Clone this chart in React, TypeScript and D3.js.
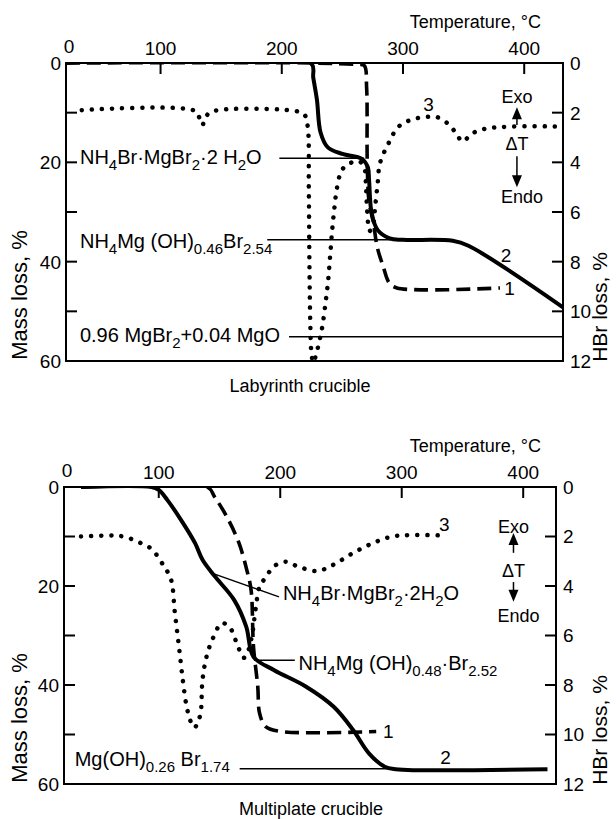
import React from 'react';
import * as d3 from 'd3';

// ---------- Top panel: Labyrinth crucible ----------
const topTemp1 = [22, 226, 262, 268, 270, 270.5, 272, 275.5, 278.7, 283.7, 288.7, 295, 380];
const topMass1 = [0, 0, 0.3, 0.5, 5, 20, 28, 32, 37, 41, 44.3, 45.3, 45.3];

const topTemp2 = [22, 224, 226, 229, 232, 238, 250, 266, 271, 272, 274, 279, 289, 300, 341, 354, 432];
const topMass2 = [0, 0, 3, 7.4, 14, 17, 18.3, 19.3, 21, 23.5, 30, 33.6, 35.3, 35.6, 35.8, 36.8, 49.2];

const topTemp3 = [35, 128, 132, 134.5, 137, 142, 214, 219, 221.5, 222.3, 222.8, 223.5, 224.5, 226, 228, 231, 233.5, 236, 238.3, 240, 241.6, 243.5, 245, 248, 252, 258, 264, 268, 269.5, 270.5, 272.5, 275, 277, 279, 281, 288, 296, 306, 318, 328, 337, 344, 349, 357, 367, 389, 430];
const topDta3 = [9.5, 9.6, 11, 12.5, 11, 9.8, 9.8, 10.5, 13, 25, 40, 52, 58.5, 60.3, 59, 56, 53, 48.5, 43.7, 38.5, 33.6, 29, 26, 22.5, 20.8, 20, 19.8, 21, 25, 30, 33.8, 33, 29, 24.5, 20.2, 16.2, 12.9, 11.5, 10.9, 10.9, 12.2, 14.2, 15.8, 14.2, 13.3, 12.8, 12.8];

// ---------- Bottom panel: Multiplate crucible ----------
const botTemp1 = [36, 140, 146, 156, 166, 172.5, 176, 178, 181.5, 183, 188, 201, 279];
const botMass1 = [0, 0, 2, 6, 11.3, 16.8, 20.8, 32.3, 40.3, 45.7, 48.4, 49.4, 49.4];

const botTemp2 = [36, 94, 100, 107, 120, 130, 136, 146, 162, 172, 178, 195, 221, 244, 260, 273, 286, 295, 420];
const botMass2 = [0, 0, 0.6, 2.6, 7.3, 11.4, 14.7, 18, 22.8, 28.2, 34.3, 37, 40.3, 44.4, 49.1, 53.8, 56.5, 57, 57];

const botTemp3 = [36, 58, 65, 74, 84, 94, 104, 110, 113.3, 116.6, 119.8, 123, 126.5, 129.6, 132, 134.4, 136, 139.3, 144, 152, 158.8, 165.3, 170, 173, 176.6, 180, 183, 188, 194.5, 204, 214, 230, 243, 259.5, 275.7, 292, 308, 334];
const botDta3 = [10, 9.8, 9.8, 10.2, 11.2, 12.5, 15.9, 18.6, 25.5, 32.2, 39, 44.4, 47.5, 48.6, 47.5, 45.8, 39, 34.3, 30.9, 27.5, 28.5, 32.3, 34.5, 33.5, 30.2, 24.2, 20.1, 18.3, 16.1, 15.1, 16, 17, 15.8, 13.4, 11.4, 10, 9.7, 9.8];

// ---------- Axes ----------
const tempTicks = [100, 200, 300, 400];
const massTicks = [10, 20, 30, 40, 50];
const massLabels = [0, 20, 40, 60];
const hbrTicks = [2, 4, 6, 8, 10];
const hbrLabels = [0, 2, 4, 6, 8, 10, 12];

const FONT = "'Liberation Sans', Arial, sans-serif";

type Pt = [number, number];
const zip = (a: number[], b: number[]): Pt[] => a.map((v, i) => [v, b[i]]);

function parseChem(s: string) {
  const parts = s.split(/_([\d.]+)/);
  return parts.map((t, i) => ({ t, sub: i % 2 === 1 })).filter(p => p.t.length > 0);
}

function Chem({ x, y, text, size = 20 }: { x: number; y: number; text: string; size?: number }) {
  const parts = parseChem(text);
  return (
    <text x={x} y={y} fontSize={size} fontFamily={FONT} fill="#000">
      {parts.map((p, i) => {
        const prevSub = i > 0 && parts[i - 1].sub;
        if (p.sub) return <tspan key={i} fontSize={size * 0.75} dy={6}>{p.t}</tspan>;
        return <tspan key={i} dy={prevSub ? -6 : 0}>{p.t}</tspan>;
      })}
    </text>
  );
}

interface LabelDef { text: string; T: number; m: number }
interface LeaderDef { T: [number, number]; m: [number, number] }

interface PanelProps {
  id: string;
  left: number; right: number; top: number; bottom: number;
  tDomain: [number, number];
  s1: Pt[]; s2: Pt[]; s3: Pt[];
  labels: LabelDef[];
  leaders: LeaderDef[];
  nums: { text: string; T: number; m: number }[];
  exo: { T: number; exo: number; up: [number, number]; dt: number; down: [number, number]; endo: number };
  caption: string;
  captionX: number;
}

function Panel(p: PanelProps) {
  const x = d3.scaleLinear().domain(p.tDomain).range([p.left, p.right]);
  const y = d3.scaleLinear().domain([0, 60]).range([p.top, p.bottom]);
  const yr = d3.scaleLinear().domain([0, 12]).range([p.top, p.bottom]);
  const line = d3.line<Pt>().x(d => x(d[0])).y(d => y(d[1])).curve(d3.curveCatmullRom.alpha(0.5));
  const tl = 11;
  const ex = x(p.exo.T);
  const ah = 12;
  const aw = 5;
  return (
    <g>
      <defs>
        <clipPath id={p.id}>
          <rect x={p.left} y={p.top} width={p.right - p.left} height={p.bottom - p.top} />
        </clipPath>
      </defs>
      <text x={541} y={p.top - 35} textAnchor="end" fontSize={18} fontFamily={FONT}>Temperature, °C</text>
      <text x={p.left + 3} y={p.top - 10} textAnchor="middle" fontSize={19} fontFamily={FONT}>0</text>
      {tempTicks.map(t => (
        <g key={t}>
          <line x1={x(t)} x2={x(t)} y1={p.top} y2={p.top + tl} stroke="#000" strokeWidth={2} />
          <text x={x(t)} y={p.top - 8} textAnchor="middle" fontSize={19} fontFamily={FONT}>{t}</text>
        </g>
      ))}
      {massTicks.map(t => (
        <line key={t} x1={p.left} x2={p.left + tl} y1={y(t)} y2={y(t)} stroke="#000" strokeWidth={2} />
      ))}
      {massLabels.map(t => (
        <text key={t} x={p.left - 5} y={y(t)} dy="0.36em" textAnchor="end" fontSize={19} fontFamily={FONT}>{t}</text>
      ))}
      {hbrTicks.map(t => (
        <line key={t} x1={p.right - tl} x2={p.right} y1={yr(t)} y2={yr(t)} stroke="#000" strokeWidth={2} />
      ))}
      {hbrLabels.map(t => (
        <text key={t} x={p.right + 7} y={yr(t)} dy="0.36em" textAnchor="start" fontSize={19} fontFamily={FONT}>{t}</text>
      ))}
      <text transform={`translate(27,${p.bottom - 66}) rotate(-90)`} textAnchor="middle" fontSize={22} fontFamily={FONT}>Mass loss, %</text>
      <text transform={`translate(607,${p.bottom - 54}) rotate(-90)`} textAnchor="middle" fontSize={21} fontFamily={FONT}>HBr loss, %</text>
      <text x={p.captionX} y={p.bottom + 31} textAnchor="middle" fontSize={18} fontFamily={FONT}>{p.caption}</text>
      <rect x={p.left} y={p.top} width={p.right - p.left} height={p.bottom - p.top} fill="none" stroke="#000" strokeWidth={2} />
      {p.leaders.map((l, i) => (
        <line key={i} x1={x(l.T[0])} x2={x(l.T[1])} y1={y(l.m[0])} y2={y(l.m[1])} stroke="#000" strokeWidth={1.5} />
      ))}
      <g clipPath={`url(#${p.id})`}>
        <path d={line(p.s3) || ''} fill="none" stroke="#000" strokeWidth={4.5} strokeDasharray="0.1 10" strokeLinecap="round" />
        <path d={line(p.s1) || ''} fill="none" stroke="#000" strokeWidth={3.6} strokeDasharray="14 7" />
        <path d={line(p.s2) || ''} fill="none" stroke="#000" strokeWidth={4} strokeLinejoin="round" />
      </g>
      {p.labels.map((l, i) => (
        <Chem key={i} x={x(l.T)} y={y(l.m)} text={l.text} size={20} />
      ))}
      {p.nums.map((n, i) => (
        <text key={i} x={x(n.T)} y={y(n.m)} dy="0.36em" textAnchor="middle" fontSize={19} fontFamily={FONT}>{n.text}</text>
      ))}
      <text x={ex} y={y(p.exo.exo)} dy="0.36em" textAnchor="middle" fontSize={18} fontFamily={FONT}>Exo</text>
      <path d={`M${ex},${y(p.exo.up[0])} L${ex - aw},${y(p.exo.up[0]) + ah} L${ex + aw},${y(p.exo.up[0]) + ah} Z`} fill="#000" />
      <line x1={ex} x2={ex} y1={y(p.exo.up[0]) + ah - 2} y2={y(p.exo.up[1])} stroke="#000" strokeWidth={1.5} />
      <text x={ex} y={y(p.exo.dt)} dy="0.36em" textAnchor="middle" fontSize={18} fontFamily={FONT}>ΔT</text>
      <line x1={ex} x2={ex} y1={y(p.exo.down[0])} y2={y(p.exo.down[1]) - ah + 2} stroke="#000" strokeWidth={1.5} />
      <path d={`M${ex},${y(p.exo.down[1])} L${ex - aw},${y(p.exo.down[1]) - ah} L${ex + aw},${y(p.exo.down[1]) - ah} Z`} fill="#000" />
      <text x={ex + 5} y={y(p.exo.endo)} dy="0.36em" textAnchor="middle" fontSize={18} fontFamily={FONT}>Endo</text>
    </g>
  );
}

export default function App() {
  return (
    <svg width={616} height={819} style={{ position: 'absolute', left: 0, top: 0, background: '#fff' }}>
      <rect width={616} height={819} fill="#fff" />
      <Panel
        id="clipTop"
        left={66} right={563} top={63} bottom={361}
        tDomain={[22, 432]}
        s1={zip(topTemp1, topMass1)}
        s2={zip(topTemp2, topMass2)}
        s3={zip(topTemp3, topDta3)}
        labels={[
          { text: 'NH_4Br·MgBr_2·2 H_2O', T: 33.5, m: 20.4 },
          { text: 'NH_4Mg (OH)_0.46Br_2.54', T: 33.5, m: 37.2 },
          { text: '0.96 MgBr_2+0.04 MgO', T: 33.5, m: 56.2 },
        ]}
        leaders={[
          { T: [198, 268], m: [19.2, 19.2] },
          { T: [188, 290], m: [35.6, 35.6] },
          { T: [206, 432], m: [55.1, 55.1] },
        ]}
        nums={[
          { text: '1', T: 388, m: 45.3 },
          { text: '2', T: 385, m: 38.6 },
          { text: '3', T: 321, m: 8.3 },
        ]}
        exo={{ T: 394, exo: 6.8, up: [8.9, 12.5], dt: 16.3, down: [18.8, 25], endo: 26.8 }}
        caption="Labyrinth crucible"
        captionX={300}
      />
      <Panel
        id="clipBot"
        left={64} right={556} top={487} bottom={784}
        tDomain={[22, 427]}
        s1={zip(botTemp1, botMass1)}
        s2={zip(botTemp2, botMass2)}
        s3={zip(botTemp3, botDta3)}
        labels={[
          { text: 'NH_4Br·MgBr_2·2H_2O', T: 202.2, m: 22.8 },
          { text: 'NH_4Mg (OH)_0.48·Br_2.52', T: 215, m: 37 },
          { text: 'Mg(OH)_0.26 Br_1.74', T: 30.8, m: 56.3 },
        ]}
        leaders={[
          { T: [146, 199], m: [17.6, 22.2] },
          { T: [178.5, 212], m: [35, 35] },
          { T: [166.6, 293], m: [56.9, 56.9] },
        ]}
        nums={[
          { text: '1', T: 289, m: 49.4 },
          { text: '2', T: 336, m: 54.5 },
          { text: '3', T: 335, m: 7.5 },
        ]}
        exo={{ T: 392, exo: 7.9, up: [9.3, 13.3], dt: 16.8, down: [19.2, 23.2], endo: 26 }}
        caption="Multiplate crucible"
        captionX={311}
      />
    </svg>
  );
}
